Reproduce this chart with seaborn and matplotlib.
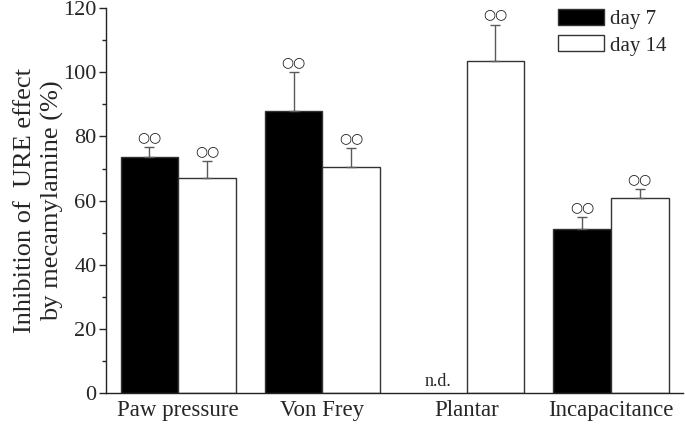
import matplotlib
matplotlib.use("Agg")
import matplotlib.pyplot as plt
from matplotlib.ticker import MultipleLocator
from matplotlib.patches import Patch
import numpy as np
import pandas as pd
import seaborn as sns

# Values
tests = ["Paw pressure", "Von Frey", "Plantar", "Incapacitance"]
days = ["day 7", "day 14"]
day7_mean = [73.5, 88.0, np.nan, 51.0]
day14_mean = [67.0, 70.5, 103.5, 60.8]
day7_sem = [3.2, 12.0, np.nan, 3.8]
day14_sem = [5.3, 5.8, 11.3, 2.8]
colors = {"day 7": "black", "day 14": "white"}

df = pd.DataFrame({
    "test": tests * 2,
    "day": ["day 7"] * 4 + ["day 14"] * 4,
    "value": day7_mean + day14_mean,
})
sems = {"day 7": day7_sem, "day 14": day14_sem}

sns.set_style("ticks")
plt.rcParams["font.family"] = ["Liberation Serif", "DejaVu Serif"]

fig = plt.figure(figsize=(6.85, 4.25), dpi=100)
ax = fig.add_axes([0.155, 0.075, 0.842, 0.906])

sns.barplot(data=df, x="test", y="value", hue="day", hue_order=days, order=tests,
            palette=colors, edgecolor="#333333", linewidth=1.0, errorbar=None,
            width=0.8, legend=False, ax=ax)

# error bars + significance marks on top of each bar
for day, cont in zip(days, ax.containers):
    for bar in cont:
        h = bar.get_height()
        if not np.isfinite(h) or h == 0:
            continue
        xc = bar.get_x() + bar.get_width() / 2
        i = int(round(xc))
        err = sems[day][i]
        ax.errorbar(xc, h, yerr=[[0], [err]], fmt="none", ecolor="#5a5a5a",
                    elinewidth=1.0, capsize=3.5, capthick=1.0, zorder=3)
        ax.text(xc, h + err + 1.0, "○○", ha="center", va="bottom",
                fontsize=10, family="DejaVu Sans", color="#1a1a1a")

# n.d. for missing plantar day 7
bw = 0.4
ax.text(tests.index("Plantar") - bw / 2, 1.0, "n.d.", ha="center", va="bottom", fontsize=13)

ax.set_xlim(-0.5, 3.5)
ax.set_ylim(0, 120)
ax.yaxis.set_major_locator(MultipleLocator(20))
ax.yaxis.set_minor_locator(MultipleLocator(10))
ax.tick_params(axis="y", which="major", length=5, width=1, direction="out", labelsize=16, pad=2)
ax.tick_params(axis="y", which="minor", length=3, width=1, direction="out")
ax.tick_params(axis="x", length=0, labelsize=16.5, pad=5)
ax.set_xlabel("")
ax.set_ylabel("Inhibition of  URE effect\nby mecamylamine (%)", fontsize=19, linespacing=1.3, labelpad=-1)
sns.despine(ax=ax)
for s in ["left", "bottom"]:
    ax.spines[s].set_linewidth(1.0)
    ax.spines[s].set_color("#222222")

handles = [Patch(facecolor=colors[d], edgecolor="#333333", linewidth=1.0, label=d) for d in days]
ax.legend(handles=handles, loc="upper left", bbox_to_anchor=(0.783, 0.998), frameon=False,
          fontsize=15, handlelength=2.2, handleheight=0.8, handletextpad=0.3,
          labelspacing=0.3, borderpad=0, borderaxespad=0)

fig.savefig("out.png", dpi=100)
